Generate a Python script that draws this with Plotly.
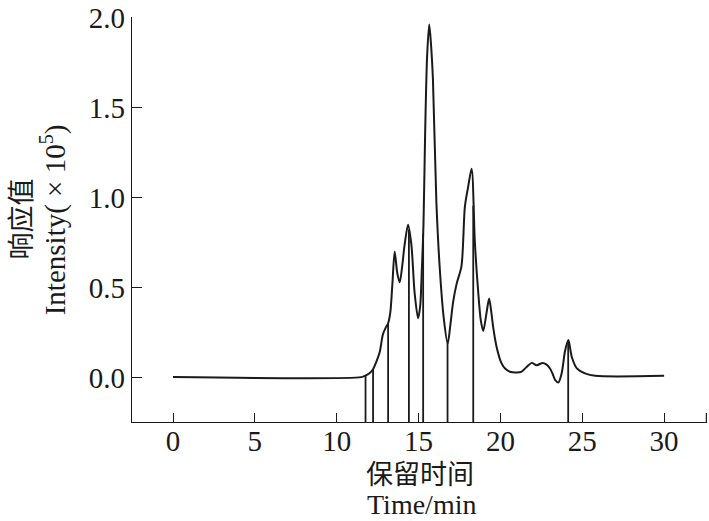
import numpy as np
import plotly.graph_objects as go

# Chromatogram trace (retention time in min, intensity in 1e5)
time_min = [0, 11.5, 11.75, 12.0, 12.2, 12.4, 12.62, 12.82, 13.0, 13.13, 13.27, 13.4,
            13.54, 13.7, 13.85, 14.0, 14.15, 14.36, 14.56, 14.76, 14.97, 15.1, 15.2,
            15.3, 15.4, 15.52, 15.65, 15.76, 15.88, 16.09, 16.3, 16.54, 16.78, 16.95,
            17.11, 17.32, 17.62, 17.83, 18.03, 18.24, 18.44, 18.64, 18.8, 18.95, 19.15,
            19.31, 19.45, 19.56, 19.77, 20.07, 20.3, 20.58, 21.0, 21.3, 21.6, 21.91,
            22.22, 22.58, 22.8, 23.03, 23.2, 23.34, 23.54, 23.74, 23.95, 24.15, 24.36,
            24.67, 25.17, 25.79, 30.0]
intensity = [0.004, 0.004, 0.012, 0.025, 0.045, 0.085, 0.14, 0.24, 0.28, 0.30, 0.36, 0.52,
             0.70, 0.58, 0.53, 0.62, 0.74, 0.85, 0.74, 0.47, 0.33, 0.40, 0.60,
             0.85, 1.35, 1.78, 1.96, 1.85, 1.65, 0.97, 0.60, 0.33, 0.19, 0.30,
             0.42, 0.52, 0.62, 0.95, 1.06, 1.16, 0.75, 0.48, 0.32, 0.26, 0.36,
             0.44, 0.36, 0.28, 0.17, 0.08, 0.05, 0.034, 0.03, 0.035, 0.06, 0.083,
             0.07, 0.083, 0.075, 0.052, 0.02, -0.011, -0.025, 0.025, 0.15, 0.21, 0.116,
             0.053, 0.025, 0.011, 0.011]

# Peak split (drop) lines
drop_times = [11.76, 12.22, 13.14, 14.41, 15.28, 16.77, 18.34, 24.14]

x_tickvals = [0, 5, 10, 15, 20, 25, 30]
x_ticktext = ["0", "5", "10", "15", "20", "25", "30"]
y_tickvals = [0.0, 0.5, 1.0, 1.5, 2.0]
y_ticktext = ["0.0", "0.5", "1.0", "1.5", "2.0"]

X_RANGE = [-2.506, 32.62]
Y_RANGE = [-0.245, 2.002]
X_END_TICK = 32.58

INK = "#1a1a1a"
SERIF = "Liberation Serif, Times New Roman, Noto Sans CJK SC, serif"

drop_tops = np.interp(drop_times, time_min, intensity)
dx, dy = [], []
for t, top in zip(drop_times, drop_tops):
    dx += [t, t, None]
    dy += [Y_RANGE[0], float(top), None]

fig = go.Figure()
fig.add_trace(go.Scatter(x=dx, y=dy, mode="lines",
                         line=dict(color=INK, width=1.8),
                         hoverinfo="skip", showlegend=False))
fig.add_trace(go.Scatter(x=time_min, y=intensity, mode="lines",
                         line=dict(color=INK, width=2, shape="spline", smoothing=0.8),
                         showlegend=False))

# small end-cap tick at the right end of the x axis
fig.add_shape(type="line", xref="x", yref="paper", x0=X_END_TICK, x1=X_END_TICK,
              y0=0, y1=0.022, line=dict(color=INK, width=1.2))

fig.update_layout(
    width=709, height=521,
    margin=dict(l=132, r=2, t=10, b=99),
    paper_bgcolor="white", plot_bgcolor="white",
    font=dict(family=SERIF, size=29, color=INK),
    xaxis=dict(range=X_RANGE, tickvals=x_tickvals, ticktext=x_ticktext,
               ticks="inside", ticklen=9, tickwidth=1.2, tickcolor=INK,
               showline=True, linecolor=INK, linewidth=1.2, mirror=False,
               showgrid=False, zeroline=False, tickfont=dict(size=29),
               ticklabelstandoff=-7, ticklabeloverflow="allow"),
    yaxis=dict(range=Y_RANGE, tickvals=y_tickvals, ticktext=y_ticktext,
               ticks="inside", ticklen=10, tickwidth=1.2, tickcolor=INK,
               showline=True, linecolor=INK, linewidth=1.2, mirror=False,
               showgrid=False, zeroline=False, tickfont=dict(size=29),
               ticklabeloverflow="allow"),
    annotations=[
        dict(text="响应值", xref="paper", yref="paper", x=-0.1965, y=0.5,
             xanchor="center", yanchor="middle", textangle=-90, showarrow=False,
             font=dict(size=27, family="Noto Sans CJK SC")),
        dict(text="Intensity( × 10<sup>5</sup>)", xref="paper", yref="paper",
             x=-0.136, y=0.5, xanchor="center", yanchor="middle", textangle=-90,
             showarrow=False, font=dict(size=29)),
        dict(text="保留时间", xref="paper", yref="paper", x=0.5009, y=-0.1245,
             xanchor="center", yanchor="middle", showarrow=False,
             font=dict(size=27, family="Noto Sans CJK SC")),
        dict(text="Time/min", xref="paper", yref="paper", x=0.5039, y=-0.2033,
             xanchor="center", yanchor="middle", showarrow=False,
             font=dict(size=28)),
    ],
)

fig.write_html("out.html", config={"displayModeBar": False},
               post_script="document.body.style.margin='0';document.body.style.overflow='hidden';")
